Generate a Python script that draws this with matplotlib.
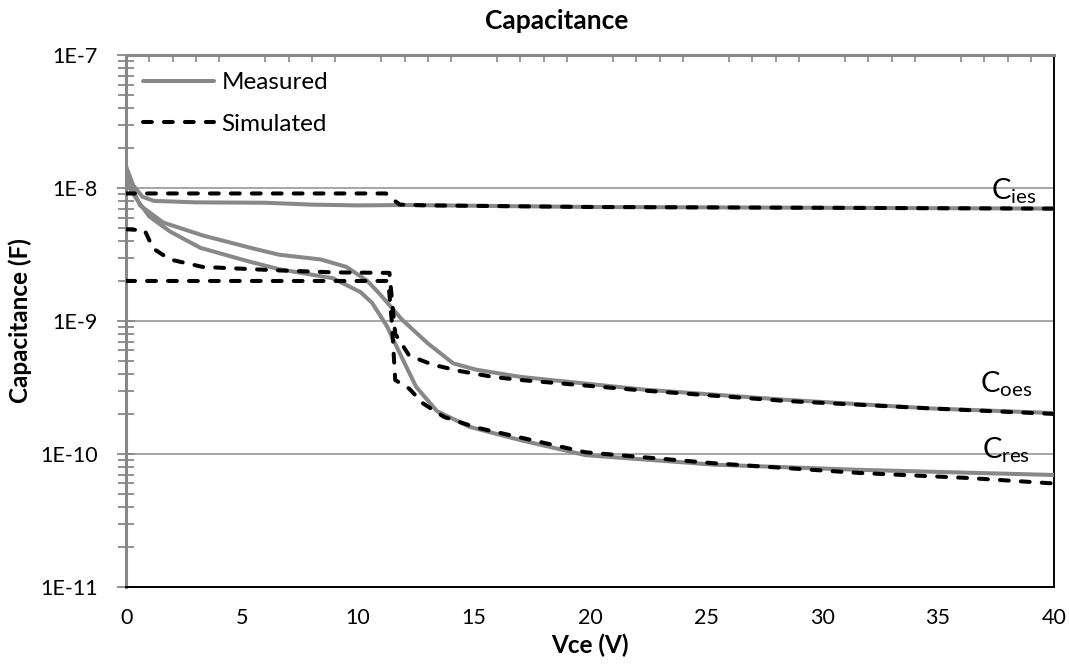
import numpy as np
import matplotlib.pyplot as plt
from matplotlib.ticker import LogLocator, FixedLocator, NullFormatter

plt.rcParams['font.family'] = ['Lato', 'DejaVu Sans']
plt.rcParams['mathtext.default'] = 'regular'

# ── data (Vce in V, capacitance in F) ────────────────────────────────────────
v_cies_meas = [0, 0.3, 0.7, 1.2, 3, 6, 8, 10, 12, 20, 30, 40]
c_cies_meas = [1.45e-8, 1.05e-8, 8.6e-9, 8.0e-9, 7.8e-9, 7.75e-9, 7.5e-9,
               7.4e-9, 7.45e-9, 7.2e-9, 7.1e-9, 7.0e-9]

v_coes_meas = [0, 0.6, 1.6, 3.3, 5.5, 6.6, 8.4, 9.5, 10.4, 10.9, 11.9, 13.0,
               14.1, 15.1, 17, 22.3, 28.5, 34.7, 40]
c_coes_meas = [1.25e-8, 7.4e-9, 5.5e-9, 4.4e-9, 3.5e-9, 3.15e-9, 2.9e-9,
               2.55e-9, 2.0e-9, 1.62e-9, 1.02e-9, 6.8e-10, 4.8e-10, 4.3e-10,
               3.8e-10, 3.05e-10, 2.55e-10, 2.2e-10, 2.03e-10]

v_cres_meas = [0, 0.4, 1.0, 1.9, 3.2, 5.3, 6.6, 8.9, 10.1, 10.6, 11.25, 11.8,
               12.5, 13.4, 14.8, 17, 19.8, 25.4, 31.6, 40]
c_cres_meas = [1.1e-8, 8.5e-9, 6.1e-9, 4.7e-9, 3.55e-9, 2.8e-9, 2.45e-9,
               2.1e-9, 1.65e-9, 1.37e-9, 9.1e-10, 5.7e-10, 3.2e-10, 2.1e-10,
               1.6e-10, 1.27e-10, 9.8e-11, 8.3e-11, 7.6e-11, 6.95e-11]

v_cies_sim = [0, 11.2, 11.5, 11.8, 13, 20, 30, 40]
c_cies_sim = [9.1e-9, 9.1e-9, 8.2e-9, 7.5e-9, 7.4e-9, 7.2e-9, 7.1e-9, 7.0e-9]

v_coes_sim = [0, 0.8, 1.17, 1.9, 3.3, 6.6, 9, 11.35, 11.45, 11.6, 12.2, 13.2,
              14.4, 15.8, 17, 22.3, 28.5, 34.7, 40]
c_coes_sim = [4.9e-9, 4.8e-9, 3.5e-9, 2.9e-9, 2.55e-9, 2.4e-9, 2.32e-9,
              2.3e-9, 1.5e-9, 8.0e-10, 5.5e-10, 4.7e-10, 4.2e-10, 3.8e-10,
              3.6e-10, 3.0e-10, 2.5e-10, 2.2e-10, 2.0e-10]

v_cres_sim = [0, 11.3, 11.45, 11.6, 12.2, 12.8, 13.7, 15.1, 17, 19.8, 25.4,
              31.6, 36.3, 40]
c_cres_sim = [2.0e-9, 2.0e-9, 1.0e-9, 3.6e-10, 3.1e-10, 2.4e-10, 1.9e-10,
              1.58e-10, 1.33e-10, 1.03e-10, 8.5e-11, 7.2e-11, 6.6e-11, 6.0e-11]

y_ticks = [1e-11, 1e-10, 1e-9, 1e-8, 1e-7]
y_tick_labels = ['1E-11', '1E-10', '1E-9', '1E-8', '1E-7']

GRAY = '#888888'
LW = 2.9
DASH = (2.2, 3.0)

fig = plt.figure(figsize=(10.69, 6.67), dpi=100)
ax = fig.add_axes([0.118, 0.12, 0.868, 0.7975])

# measured first, simulated dashed on top
for v, c in [(v_cies_meas, c_cies_meas), (v_coes_meas, c_coes_meas),
             (v_cres_meas, c_cres_meas)]:
    ax.plot(v, c, color=GRAY, lw=LW, solid_capstyle='round', zorder=3)

for v, c in [(v_cies_sim, c_cies_sim), (v_coes_sim, c_coes_sim),
             (v_cres_sim, c_cres_sim)]:
    ax.plot(v, c, color='black', lw=LW, dashes=DASH,
            dash_capstyle='round', zorder=4)

ax.set_yscale('log')
ax.set_xlim(0, 40)
ax.set_ylim(1e-11, 1e-7)

ax.yaxis.set_major_locator(FixedLocator(y_ticks))
ax.set_yticklabels(y_tick_labels)
ax.yaxis.set_minor_locator(LogLocator(base=10, subs=np.arange(2, 10)))
ax.yaxis.set_minor_formatter(NullFormatter())
ax.tick_params(axis='y', which='both', direction='inout', color=GRAY,
               width=1.3, labelsize=15.5, pad=14)
ax.tick_params(axis='y', which='major', length=13)
ax.tick_params(axis='y', which='minor', length=11)

# x axis: labels at the bottom, small ticks along the gray top edge
ax.set_xticks(np.arange(0, 41, 5))
ax.xaxis.set_minor_locator(FixedLocator(np.arange(1, 40)))
ax.tick_params(axis='x', which='both', bottom=False, top=True,
               direction='in', color=GRAY, width=1.2, labelsize=15.5, pad=15)
ax.tick_params(axis='x', which='major', length=0)
ax.tick_params(axis='x', which='minor', length=5)

ax.grid(True, axis='y', which='major', color='#a6a6a6', lw=1.4)
ax.set_axisbelow(True)

ax.spines['left'].set_color(GRAY)
ax.spines['left'].set_linewidth(2.2)
ax.spines['top'].set_color(GRAY)
ax.spines['top'].set_linewidth(2.2)
ax.spines['right'].set_color('black')
ax.spines['right'].set_linewidth(1.4)
ax.spines['bottom'].set_color('black')
ax.spines['bottom'].set_linewidth(1.4)

ax.set_xlabel('Vce (V)', fontsize=17.5, fontweight='bold', labelpad=4)
ax.set_ylabel('Capacitance (F)', fontsize=17.5, fontweight='bold', labelpad=6)
fig.text(0.521, 0.968, 'Capacitance', ha='center', va='center',
         fontsize=19, fontweight='bold')

ax.text(37.3, 8.26e-9, r'$C_{ies}$', fontsize=21, va='baseline', ha='left')
ax.text(36.8, 2.88e-10, r'$C_{oes}$', fontsize=21, va='baseline', ha='left')
ax.text(36.9, 9.3e-11, r'$C_{res}$', fontsize=21, va='baseline', ha='left')

h_meas, = ax.plot([], [], color=GRAY, lw=LW, solid_capstyle='round')
h_sim, = ax.plot([], [], color='black', lw=LW, dashes=DASH,
                 dash_capstyle='round')
ax.legend([h_meas, h_sim], ['Measured', 'Simulated'], loc='upper left',
          bbox_to_anchor=(0.0, 1.0), frameon=False, fontsize=17.5,
          handlelength=2.9, handletextpad=0.33, labelspacing=0.85,
          borderaxespad=0.3)

fig.savefig('out.png', dpi=100)
